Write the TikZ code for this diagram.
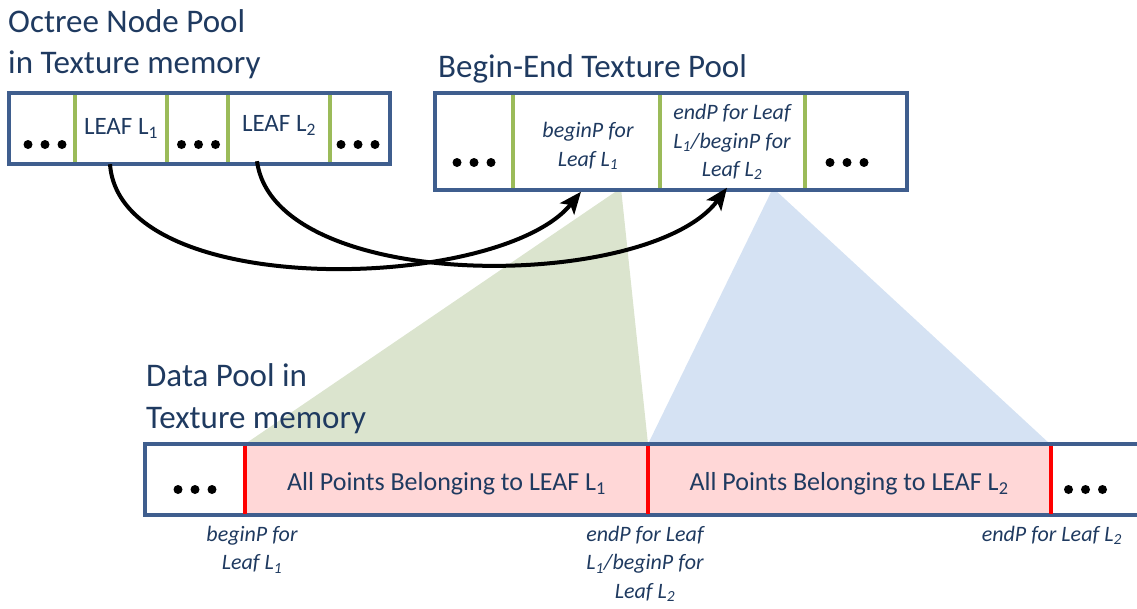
\documentclass[tikz,border=0pt]{standalone}
\usepackage{fontspec}
\setmainfont{Carlito}
\usetikzlibrary{arrows.meta}
\definecolor{poolblue}{HTML}{3F5E8E}
\definecolor{divgreen}{HTML}{9BBB59}
\definecolor{ink}{HTML}{1F3A60}
\definecolor{rangepink}{HTML}{FFD7D7}
\definecolor{rangered}{HTML}{FF0000}
\definecolor{fangreen}{HTML}{DBE4CE}
\definecolor{fanblue}{HTML}{D5E2F3}
\begin{document}
\begin{tikzpicture}[x=1pt,y=-1pt,
  title/.style={anchor=base west, inner sep=0pt, text=ink, font=\fontsize{33}{40}\selectfont},
  pool/.style={draw=poolblue, line width=3.5pt, fill=white, inner sep=0pt},
  cell/.style={inner sep=0pt, text=ink, align=center},
  leaftext/.style={font=\fontsize{25}{30}\selectfont},
  ptrtext/.style={font=\fontsize{22}{28.5}\selectfont\itshape},
  rangetext/.style={font=\fontsize{26}{30}\selectfont},
  divider/.style={draw=divgreen, line width=3.5pt},
  bound/.style={draw=rangered, line width=4pt},
  link/.style={draw=black, line width=4pt, -{Stealth[length=22pt,width=18pt,inset=5pt]}},
  dotrow/.pic={\foreach \dx in {-17,0,17} \fill[black] (\dx,0) circle[radius=4.5pt];}
]
\useasboundingbox (0,0) rectangle (1137,608);

% fans from the pointer cells down to the point ranges
\fill[fangreen] (621,188) -- (648,444) -- (245,444) -- cycle;
\fill[fanblue] (773,188) -- (1050,444) -- (648,444) -- cycle;

% titles
\node[title] (octreeTitleA) at (8,32) {Octree Node Pool};
\node[title] (octreeTitleB) at (8,73) {in Texture memory};
\node[title] (beginEndTitle) at (438,77) {Begin-End Texture Pool};
\node[title] (dataTitleA) at (146,386) {Data Pool in};
\node[title] (dataTitleB) at (146,428) {Texture memory};

% octree node pool
\node[pool, minimum width=381pt, minimum height=71pt] (octree) at (199.5,128.5) {};
\node[cell, minimum width=66pt, minimum height=71pt] (dotsA) at (42,128.5) {};
\node[cell, leaftext, minimum width=92pt, minimum height=71pt] (leafA) at (121,128.5) {LEAF L\textsubscript{1}};
\node[cell, minimum width=61pt, minimum height=71pt] (dotsB) at (197.5,128.5) {};
\node[cell, leaftext, minimum width=102pt, minimum height=71pt] (leafB) at (279,125.5) {LEAF L\textsubscript{2}};
\node[cell, minimum width=60pt, minimum height=71pt] (dotsC) at (360,128.5) {};
\draw[divider] (75,95) -- (75,162);
\draw[divider] (167,95) -- (167,162);
\draw[divider] (228,95) -- (228,162);
\draw[divider] (330,95) -- (330,162);
\pic at ([shift={(3,16)}]dotsA) {dotrow};
\pic at ([shift={(1,16)}]dotsB) {dotrow};
\pic at ([shift={(-2,16)}]dotsC) {dotrow};

% begin-end texture pool
\node[pool, minimum width=472pt, minimum height=97pt] (beginEnd) at (671,141.5) {};
\node[cell, minimum width=78pt, minimum height=97pt] (dotsD) at (474,141.5) {};
\node[cell, ptrtext, minimum width=147pt, minimum height=97pt] (beginA) at (588,146) {beginP for\\Leaf L\textsubscript{1}};
\node[cell, ptrtext, minimum width=145pt, minimum height=97pt] (endA) at (732,142) {endP for Leaf\\L\textsubscript{1}/beginP for\\Leaf L\textsubscript{2}};
\node[cell, minimum width=102pt, minimum height=97pt] (dotsE) at (856,141.5) {};
\draw[divider] (513,95) -- (513,188);
\draw[divider] (660,95) -- (660,188);
\draw[divider] (805,95) -- (805,188);
\pic at ([shift={(0,21)}]dotsD) {dotrow};
\pic at ([shift={(-9,21)}]dotsE) {dotrow};

% data pool
\fill[white] (145,444) rectangle (1137,515);
\node[cell, rangetext, fill=rangepink, draw=rangered!45, line width=1pt, minimum width=403pt, minimum height=71pt, text depth=0pt] (ptsA) at (446.5,479.5) {\raisebox{-4pt}{All Points Belonging to LEAF L\textsubscript{1}}};
\node[cell, rangetext, fill=rangepink, draw=rangered!45, line width=1pt, minimum width=402pt, minimum height=71pt, text depth=0pt] (ptsB) at (849,479.5) {\raisebox{-4pt}{All Points Belonging to LEAF L\textsubscript{2}}};
\node[cell, minimum width=100pt, minimum height=71pt] (dotsF) at (195,479.5) {};
\node[cell, minimum width=87pt, minimum height=71pt] (dotsG) at (1093.5,479.5) {};
\draw[poolblue, line width=4.5pt] (1137,444) -- (145,444) -- (145,515) -- (1137,515);
\draw[bound] ([yshift=-2]ptsA.north west) -- ([yshift=2]ptsA.south west);
\draw[bound] ([yshift=-2]ptsB.north west) -- ([yshift=2]ptsB.south west);
\draw[bound] ([yshift=-2]ptsB.north east) -- ([yshift=2]ptsB.south east);
\pic at ([shift={(0,10)}]dotsF) {dotrow};
\pic at ([shift={(-8,10)}]dotsG) {dotrow};

% pointer labels under the data pool
\node[cell, ptrtext, anchor=north] (lblA) at (252,526) {beginP for\\Leaf L\textsubscript{1}};
\node[cell, ptrtext, anchor=north] (lblB) at (645,526) {endP for Leaf\\L\textsubscript{1}/beginP for\\Leaf L\textsubscript{2}};
\node[cell, ptrtext, anchor=north east] (lblC) at (1122,526) {endP for Leaf L\textsubscript{2}};

% leaf entries pointing to their begin-end cells
\draw[link] ([xshift=-11]leafA.south) .. controls (120,302) and (500,292) .. ([xshift=-7,yshift=3]beginA.south);
\draw[link] ([xshift=-22]leafB.south) .. controls (275,295) and (650,292) .. ([xshift=-5,yshift=3]endA.south);
\end{tikzpicture}
\end{document}
